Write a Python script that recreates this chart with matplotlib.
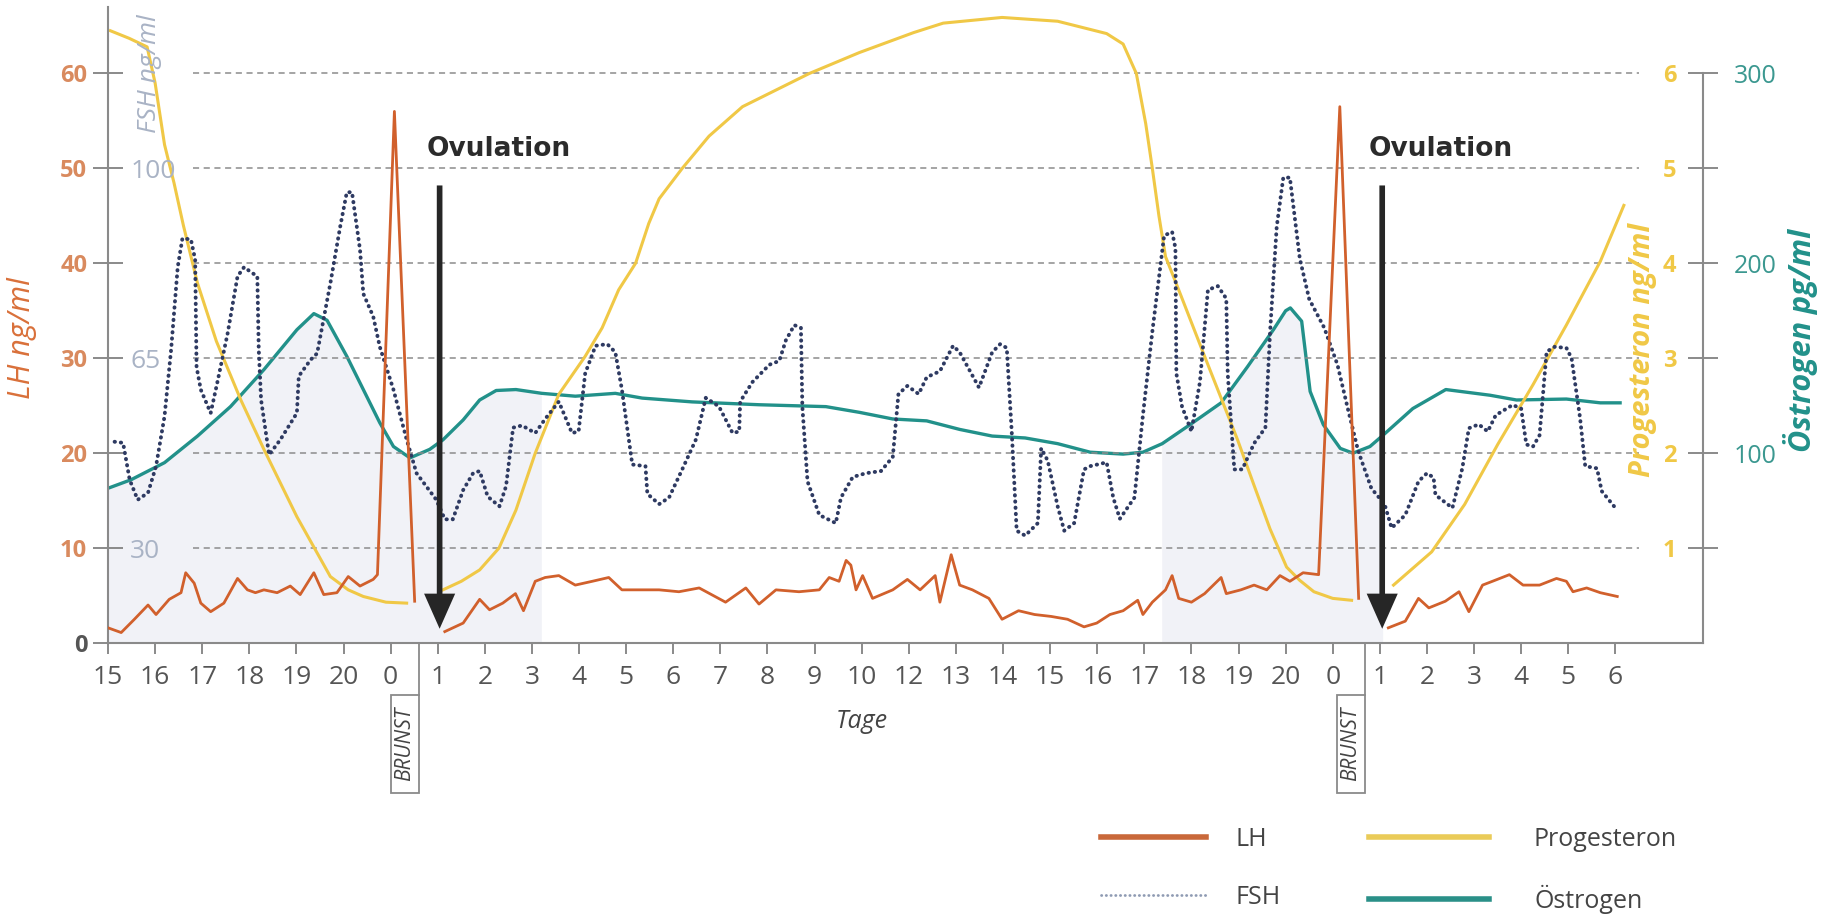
import numpy as np
import matplotlib
matplotlib.use("Agg")
import matplotlib.pyplot as plt
import matplotlib.transforms as mtrans
from matplotlib import font_manager
from matplotlib.lines import Line2D
from matplotlib.patches import Rectangle

nan = np.nan

# x = position of the day tick (0 = day 15 of the first cycle)
day_labels = ["15", "16", "17", "18", "19", "20", "0", "1", "2", "3", "4", "5", "6", "7", "8", "9", "10",
              "12", "13", "14", "15", "16", "17", "18", "19", "20", "0", "1", "2", "3", "4", "5", "6"]
brunst_x = [6.6, 26.68]
ovulation_x = [7.04, 27.05]

# LH ng/ml (nan = gap in the curve)
lh_x = [0, 0.28, 0.56, 0.85, 1.02, 1.3, 1.55, 1.65, 1.83, 1.97, 2.18, 2.46, 2.75, 2.96, 3.13, 3.31, 3.59,
        3.87, 4.08, 4.37, 4.58, 4.86, 5.1, 5.35, 5.63, 5.72, 6.08, 6.51, nan,
        7.15, 7.54, 7.89, 8.1, 8.38, 8.65, 8.82, 9.07, 9.28, 9.57, 9.92, 10.28, 10.63, 10.91, 11.27, 11.7,
        12.12, 12.55, 13.11, 13.54, 13.82, 14.18, 14.67, 15.1, 15.31, 15.52, 15.67, 15.77, 15.88, 16.02,
        16.23, 16.66, 16.97, 17.24, 17.56, 17.66, 17.9, 18.08, 18.35, 18.7, 18.98, 19.33, 19.67, 20.02,
        20.37, 20.72, 20.99, 21.27, 21.55, 21.86, 21.97, 22.17, 22.45, 22.59, 22.73, 23.0, 23.28, 23.63,
        23.74, 24.05, 24.33, 24.6, 24.88, 25.09, 25.37, 25.7, 26.15, 26.55, nan,
        27.18, 27.54, 27.82, 28.04, 28.39, 28.68, 28.89, 29.18, 29.39, 29.75, 30.04, 30.39, 30.75, 30.96,
        31.1, 31.39, 31.68, 32.04]
lh = [1.6, 1.1, 2.5, 4.0, 3.0, 4.6, 5.3, 7.4, 6.3, 4.2, 3.3, 4.2, 6.8, 5.6, 5.3, 5.6, 5.3,
      6.0, 5.1, 7.4, 5.1, 5.3, 7.0, 6.0, 6.7, 7.2, 56.0, 4.4, nan,
      1.2, 2.1, 4.6, 3.5, 4.2, 5.2, 3.4, 6.5, 6.9, 7.1, 6.1, 6.5, 6.9, 5.6, 5.6, 5.6,
      5.4, 5.8, 4.3, 5.8, 4.1, 5.6, 5.4, 5.6, 6.9, 6.5, 8.7, 8.2, 5.6, 7.1,
      4.7, 5.6, 6.7, 5.6, 7.1, 4.3, 9.3, 6.1, 5.6, 4.7, 2.5, 3.4, 3.0, 2.8,
      2.5, 1.7, 2.1, 3.0, 3.4, 4.5, 3.0, 4.3, 5.6, 7.1, 4.7, 4.3, 5.2, 6.9,
      5.2, 5.6, 6.1, 5.6, 7.1, 6.5, 7.4, 7.2, 56.5, 4.7, nan,
      1.6, 2.3, 4.7, 3.7, 4.4, 5.4, 3.3, 6.1, 6.5, 7.2, 6.1, 6.1, 6.8, 6.5,
      5.4, 5.8, 5.3, 4.9]

# FSH ng/ml
fsh_x = [0.14, 0.32, 0.46, 0.63, 0.85, 1.02, 1.2, 1.34, 1.48, 1.58, 1.76, 1.85, 1.88, 1.97, 2.18, 2.32,
         2.54, 2.75, 2.89, 3.03, 3.17, 3.2, 3.25, 3.42, 3.66, 4.01, 4.05, 4.3, 4.44, 4.72, 4.93, 5.07,
         5.18, 5.35, 5.42, 5.63, 5.77, 6.06, 6.34, 6.55, 6.97, 7.15, 7.32, 7.54, 7.75, 7.89, 8.06, 8.31,
         8.45, 8.6, 8.79, 9.07, 9.28, 9.57, 9.85, 9.99, 10.13, 10.35, 10.6, 10.77, 10.91, 11.13, 11.41,
         11.45, 11.7, 11.91, 12.19, 12.48, 12.69, 12.97, 13.26, 13.4, 13.42, 13.68, 14.04, 14.25, 14.39,
         14.57, 14.71, 14.74, 14.85, 15.1, 15.45, 15.56, 15.81, 16.09, 16.41, 16.66, 16.78, 16.97, 17.21,
         17.38, 17.66, 17.94, 18.08, 18.49, 18.77, 18.94, 19.08, 19.19, 19.29, 19.47, 19.74, 19.81, 19.95,
         20.16, 20.3, 20.51, 20.72, 20.85, 21.2, 21.34, 21.48, 21.79, 21.97, 22.17, 22.42, 22.59, 22.66,
         22.68, 22.8, 23.0, 23.18, 23.35, 23.56, 23.74, 23.77, 23.91, 24.08, 24.33, 24.57, 24.67, 24.81,
         24.95, 25.09, 25.3, 25.5, 25.82, 26.1, 26.32, 26.54, 26.82, 27.1, 27.25, 27.54, 27.82, 28.0,
         28.14, 28.18, 28.54, 28.75, 28.89, 29.1, 29.29, 29.46, 29.82, 30.0, 30.11, 30.25, 30.39, 30.54,
         30.71, 30.96, 31.07, 31.25, 31.36, 31.61, 31.71, 32.0]
fsh = [49.6, 49.4, 42.6, 38.9, 40.2, 45.1, 54.3, 66.6, 81.8, 87.1, 86.9, 83.2, 63.4, 59.2, 54.9, 60.5,
       69.6, 80.1, 81.8, 80.9, 80.1, 66.6, 57.3, 47.2, 50.0, 54.9, 61.7, 64.7, 65.9, 78.8, 89.3, 95.6,
       95.6, 85.0, 76.9, 72.7, 67.1, 59.2, 50.0, 43.8, 38.9, 35.3, 35.3, 40.7, 43.8, 44.2, 39.5, 37.7,
       41.4, 52.2, 52.6, 51.2, 53.8, 57.0, 51.2, 51.5, 62.2, 67.3, 67.6, 66.1, 59.2, 45.4, 45.1,
       40.0, 38.1, 39.3, 44.5, 50.0, 57.7, 56.1, 51.2, 51.5, 57.0, 60.6, 63.8, 64.5, 68.3,
       71.1, 70.6, 56.1, 42.3, 36.1, 34.6, 39.3, 43.1, 43.8, 44.2, 46.8, 58.4, 59.9, 58.4,
       61.5, 62.6, 67.3, 66.1, 59.6, 66.1, 67.6, 66.9, 50.7, 33.2, 32.3, 34.6, 48.4, 46.1,
       37.7, 33.2, 34.6, 44.5, 45.1, 45.8, 39.3, 35.4, 39.3, 54.5, 69.9, 87.6, 88.3, 85.3,
       62.2, 56.1, 51.5, 60.6, 77.6, 78.3, 76.0, 62.2, 44.5, 44.5, 49.3, 52.2, 69.9, 89.2,
       98.3, 98.3, 83.4, 75.9, 70.6, 63.8, 55.7, 47.9, 41.0, 38.1, 33.7, 36.1, 42.3, 43.8,
       43.0, 39.8, 37.4, 44.7, 52.1, 52.8, 51.5, 54.5, 56.4, 55.7, 49.1, 48.7, 50.8, 66.2,
       67.1, 66.9, 65.0, 54.0, 45.1, 44.7, 40.5, 37.4]

# Progesteron ng/ml
prog_x = [0.05, 0.45, 0.83, 1.0, 1.2, 1.4, 1.6, 1.9, 2.3, 2.82, 3.31, 4.01, 4.72, 5.1, 5.42, 5.9, 6.34, nan,
          7.11, 7.5, 7.89, 8.3, 8.66, 9.07, 9.57, 10.13, 10.49, 10.84, 11.2, 11.48, 11.7, 12.19, 12.76,
          13.47, 14.89, 15.95, 17.1, 17.73, 18.98, 20.16, 21.2, 21.55, 21.83, 22.03, 22.17, 22.31, 22.45,
          22.73, 23.28, 23.63, 23.98, 24.33, 24.67, 25.02, 25.3, 25.6, 26.0, 26.4, nan,
          27.29, 28.1, 28.8, 29.5, 30.25, 30.96, 31.68, 32.18]
prog = [6.45, 6.37, 6.28, 5.9, 5.25, 4.85, 4.4, 3.79, 3.18, 2.56, 2.04, 1.33, 0.70, 0.56, 0.49, 0.43, 0.42, nan,
        0.56, 0.65, 0.77, 1.0, 1.4, 2.0, 2.62, 3.02, 3.32, 3.72, 4.0, 4.42, 4.68, 5.0, 5.34,
        5.65, 6.0, 6.22, 6.43, 6.53, 6.59, 6.55, 6.42, 6.31, 6.0, 5.47, 5.0, 4.5, 4.07,
        3.72, 3.02, 2.58, 2.14, 1.66, 1.2, 0.8, 0.66, 0.54, 0.47, 0.45, nan,
        0.61, 0.96, 1.46, 2.09, 2.72, 3.35, 4.02, 4.61]

# Östrogen pg/ml
oest_x = [0, 0.49, 1.2, 1.9, 2.6, 3.31, 4.01, 4.37, 4.65, 5.07, 5.42, 5.77, 6.06, 6.41, 6.83, 7.11, 7.54,
          7.89, 8.24, 8.66, 9.21, 9.92, 10.77, 11.34, 12.4, 13.82, 15.24, 15.95, 16.66, 17.38, 18.08,
          18.77, 19.47, 20.16, 20.85, 21.55, 21.97, 22.38, 22.94, 23.63, 24.19, 24.74, 25.0, 25.1, 25.34,
          25.52, 25.8, 26.16, 26.43, 26.79, 27.07, 27.7, 28.4, 29.34, 29.9, 30.96, 31.68, 32.1]
oest = [81.5, 86, 95, 109, 124.5, 144, 165, 173.5, 170, 151, 133.5, 116, 103.5, 97.5, 102, 107, 117.5,
        128, 133, 133.5, 131.5, 130, 131.5, 129, 127, 125.5, 124.5, 121.5, 118, 117, 112.5,
        109, 108, 105, 100.5, 99.5, 100.5, 105, 114.5, 126.5, 145.5, 165, 175, 176.5, 169.5,
        132.5, 115, 102.5, 100, 103.5, 109.5, 123.5, 133.5, 130.5, 128, 128.5, 126.5, 126.5]
shade_spans = [(0, 9.25), (22.3, 27.1)]

LH_COLOR = "#d1602c"
FSH_COLOR = "#2e3a62"
PROG_COLOR = "#f0c846"
OEST_COLOR = "#22918a"
GREY = "#8a8a8a"

fonts = {f.name for f in font_manager.fontManager.ttflist}
narrow = "Liberation Sans Narrow" if "Liberation Sans Narrow" in fonts else "Open Sans"
plt.rcParams["font.family"] = "Open Sans"

fig = plt.figure(figsize=(18.27, 9.19), dpi=100)
ax = fig.add_axes([108 / 1827, 1 - 643 / 919, (1703 - 108) / 1827, (643 - 7) / 919])
lh_top = 67.0
ax.set_xlim(0, 33.86)
ax.set_ylim(0, lh_top)

# one twin per hormone scale: FSH 30/65/100 sit on LH 10/30/50, progesteron = LH/10, östrogen = 5*LH
ax_e = ax.twinx()
ax_p = ax.twinx()
ax_f = ax.twinx()
ax_e.set_ylim(0, lh_top * 5)
ax_p.set_ylim(0, lh_top / 10)
ax_f.set_ylim(12.5, 12.5 + 1.75 * lh_top)
ax.set_zorder(ax_f.get_zorder() + 1)
ax.patch.set_visible(False)

for a in (ax_e, ax_p, ax_f):
    for s in a.spines.values():
        s.set_visible(False)
for s in ("top", "right"):
    ax.spines[s].set_visible(False)
for s in ("left", "bottom"):
    ax.spines[s].set_color(GREY)
    ax.spines[s].set_linewidth(1.5)
ax_e.spines["right"].set_visible(True)
ax_e.spines["right"].set_color(GREY)
ax_e.spines["right"].set_linewidth(1.5)
ax_e.spines["right"].set_bounds(0, 300)

# curves
ox = np.array(oest_x)
mask = np.zeros(len(ox), bool)
for a0, a1 in shade_spans:
    mask |= (ox >= a0) & (ox <= a1)
ax_e.fill_between(oest_x, oest, 0, where=mask, color="#f1f2f7", lw=0, zorder=0)
ax_e.plot(oest_x, oest, color=OEST_COLOR, lw=2.4, zorder=3)
ax_p.hlines(range(1, 7), 1.8, 32.5, colors="#8c8c8c", linestyles=(0, (4, 3)), lw=1.1, zorder=1)
ax_p.plot(prog_x, prog, color=PROG_COLOR, lw=2.2, zorder=3)
ax_f.plot(fsh_x, fsh, color=FSH_COLOR, lw=2.8, ls=(0, (0.1, 1.5)), dash_capstyle="round", zorder=3)
ax.plot(lh_x, lh, color=LH_COLOR, lw=2.0, zorder=3)

# x axis
ax.set_xticks(range(len(day_labels)), day_labels)
ax.tick_params(axis="x", direction="out", length=8, width=1.4, color=GREY, pad=8,
               labelsize=19, labelcolor="#555555")
for t in ax.get_xticklabels():
    t.set_fontfamily(narrow)

# LH axis
ax.set_yticks(range(0, 61, 10))
ax.tick_params(axis="y", direction="inout", length=22, width=1.4, color=GREY, pad=4,
               labelsize=17, labelcolor="#d98a5e")
for t in ax.get_yticklabels():
    t.set_fontweight("bold")
ax.get_yticklabels()[0].set_color("#555555")

# FSH labels right of the left spine
ax_f.yaxis.set_ticks_position("left")
ax_f.set_yticks([30, 65, 100])
ax_f.tick_params(axis="y", length=0, pad=-16, labelsize=19, labelcolor="#a9b3c5")
plt.setp(ax_f.get_yticklabels(), ha="left")

# progesteron labels left of the right spine, östrogen right of it
ax_p.set_yticks(range(1, 7))
ax_p.tick_params(axis="y", direction="inout", length=22, width=1.4, color=GREY, pad=-30,
                 labelsize=17, labelcolor=PROG_COLOR)
plt.setp(ax_p.get_yticklabels(), ha="right", fontweight="bold")
ax_e.set_yticks([100, 200, 300])
ax_e.tick_params(axis="y", length=0, pad=22, labelsize=18, labelcolor="#3b9890")

# axis titles
ax.text(-0.054, 0.48, "LH ng/ml", transform=ax.transAxes, rotation=90, ha="center", va="center",
        fontsize=22, style="italic", color="#d9703a")
ax.text(0.026, 0.895, "FSH ng/ml", transform=ax.transAxes, rotation=90, ha="center", va="center",
        fontsize=19, style="italic", color="#a9b3c5")
ax.text(0.962, 0.46, "Progesteron ng/ml", transform=ax.transAxes, rotation=90, ha="center",
        va="center", fontsize=21, style="italic", fontweight="bold", color=PROG_COLOR)
ax.text(1.061, 0.475, "Östrogen pg/ml", transform=ax.transAxes, rotation=90, ha="center",
        va="center", fontsize=22, style="italic", fontweight="bold", color=OEST_COLOR)

trans = mtrans.blended_transform_factory(ax.transData, ax.transAxes)
ax.text(16.0, -0.124, "Tage", transform=trans, ha="center", va="center", fontsize=18,
        style="italic", color="#444444", fontfamily=narrow)

# ovulation arrows
for x in ovulation_x:
    ax.arrow(x, 48.2, 0, -46.7, width=0.12, head_width=0.66, head_length=3.7,
             length_includes_head=True, color="#262626", lw=0, zorder=5)
    ax.text(x + 1.25, 52, "Ovulation", ha="center", va="center", fontsize=19, fontweight="bold",
            color="#2b2b2b", family="DejaVu Sans")

# BRUNST markers
for x in brunst_x:
    ax.plot([x, x], [0, -0.082], transform=trans, color=GREY, lw=1.3, clip_on=False)
    ax.add_patch(Rectangle((x - 0.6, -0.236), 0.6, 0.154, transform=trans, fill=False,
                           ec=GREY, lw=1.3, clip_on=False))
    ax.text(x - 0.3, -0.159, "BRUNST", transform=trans, rotation=90, ha="center", va="center",
            fontsize=15, style="italic", color="#444444", fontfamily=narrow)

# legend, one column at a time
col1 = [Line2D([], [], color="#c9683a", lw=4),
        Line2D([], [], color="#8f9bb3", lw=2, ls=(0, (0.1, 1.6)), dash_capstyle="round")]
col2 = [Line2D([], [], color="#eacb58", lw=4),
        Line2D([], [], color="#2a9088", lw=4)]
leg_style = dict(loc="upper left", frameon=False, fontsize=18, labelspacing=1.3,
                 borderpad=0, borderaxespad=0)
legends = [
    fig.legend(col1, ["LH", "FSH"], bbox_to_anchor=(1101 / 1827, 0.1),
               handlelength=4.2, handletextpad=1.2, **leg_style),
    fig.legend(col2, ["Progesteron", "Östrogen"], bbox_to_anchor=(1369 / 1827, 0.1),
               handlelength=4.8, handletextpad=1.8, **leg_style),
]
for leg in legends:
    for t in leg.get_texts():
        t.set_color("#444444")
        t.set_fontfamily(narrow)

fig.savefig("out.png", dpi=100, facecolor="white")
